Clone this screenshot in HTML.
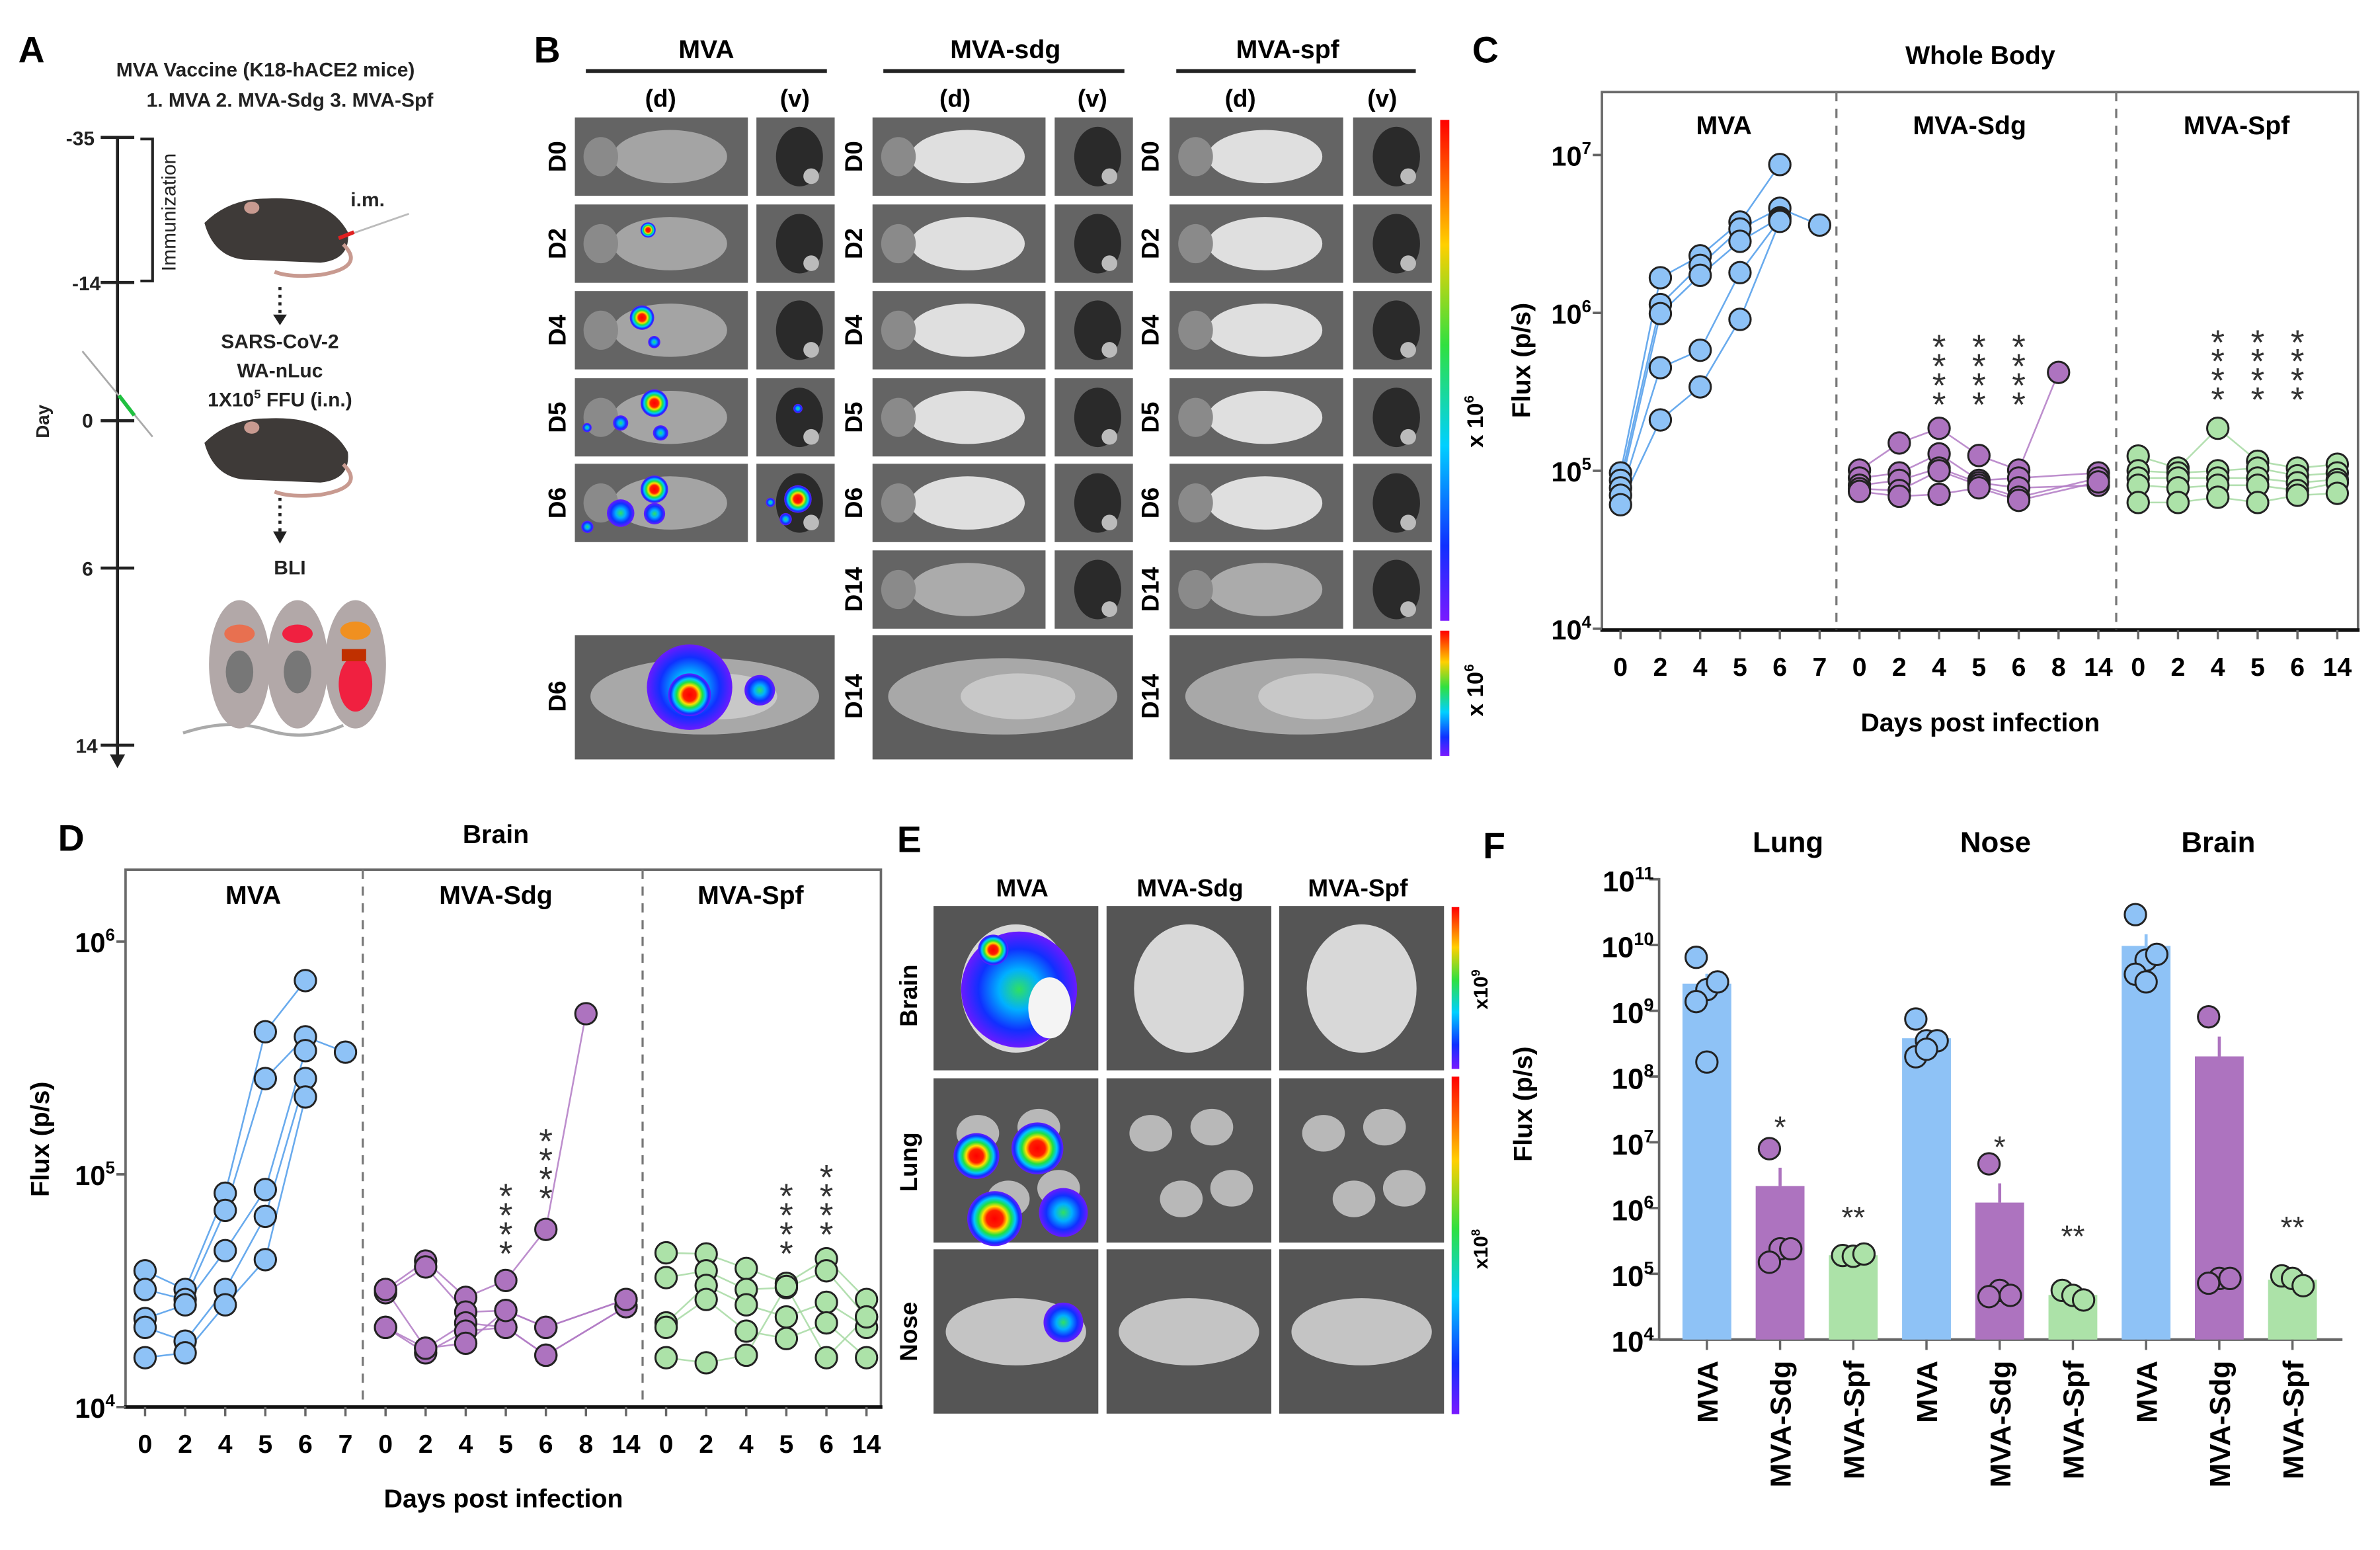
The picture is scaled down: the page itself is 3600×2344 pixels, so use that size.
<!DOCTYPE html>
<html><head><meta charset="utf-8"><style>
html,body{margin:0;padding:0;background:#fff;}
svg{display:block;font-family:"Liberation Sans",Arial,sans-serif;}
.b{font-weight:bold;}
.sb{font-weight:600;}
</style></head><body>
<svg id="fig" width="3600" height="2344" viewBox="0 0 1560 1015" preserveAspectRatio="none" xmlns="http://www.w3.org/2000/svg">
<defs>
<radialGradient id="heat"><stop offset="0" stop-color="#ff0000"/><stop offset="0.3" stop-color="#ff2000"/><stop offset="0.45" stop-color="#ffe000"/><stop offset="0.6" stop-color="#20e040"/><stop offset="0.75" stop-color="#00c8ff"/><stop offset="0.88" stop-color="#1030ff"/><stop offset="1" stop-color="#6a1aff"/></radialGradient>
<radialGradient id="heatB"><stop offset="0" stop-color="#30e060"/><stop offset="0.35" stop-color="#00b0ff"/><stop offset="0.7" stop-color="#1030ff"/><stop offset="1" stop-color="#6a1aff"/></radialGradient>
<linearGradient id="cbar" x1="0" y1="0" x2="0" y2="1"><stop offset="0" stop-color="#ff0000"/><stop offset="0.25" stop-color="#ffd000"/><stop offset="0.45" stop-color="#30e040"/><stop offset="0.65" stop-color="#00d0ff"/><stop offset="0.85" stop-color="#1030ff"/><stop offset="1" stop-color="#7a1aff"/></linearGradient>
</defs>

<!-- ===== Panel A ===== -->
<g>
<text x="12" y="41" font-size="24" class="b">A</text>
<text x="174" y="50" font-size="13" class="sb" text-anchor="middle" fill="#222">MVA Vaccine (K18-hACE2 mice)</text>
<text x="190" y="70" font-size="13" class="sb" text-anchor="middle" fill="#222">1.   MVA   2. MVA-Sdg   3. MVA-Spf</text>
<line x1="77" y1="90" x2="77" y2="496" stroke="#222" stroke-width="2"/>
<polygon points="72,494 82,494 77,503" fill="#222"/>
<g stroke="#222" stroke-width="2">
<line x1="66" y1="90" x2="88" y2="90"/><line x1="66" y1="185" x2="88" y2="185"/><line x1="66" y1="275.5" x2="88" y2="275.5"/><line x1="66" y1="372" x2="88" y2="372"/><line x1="66" y1="488" x2="88" y2="488"/></g>
<g font-size="13" class="sb" text-anchor="end" fill="#222">
<text x="62" y="95">-35</text><text x="66" y="190">-14</text><text x="61" y="280">0</text><text x="61" y="377">6</text><text x="64" y="493">14</text></g>
<path d="M92,91 H100 V184 H92" fill="none" stroke="#222" stroke-width="1.8"/>
<text transform="translate(115,139) rotate(-90)" font-size="13" text-anchor="middle" fill="#222">Immunization</text>
<text transform="translate(32,276) rotate(-90)" font-size="12" class="sb" text-anchor="middle" fill="#222">Day</text>
<line x1="54" y1="230" x2="100" y2="286" stroke="#aaa" stroke-width="1.2"/>
<line x1="78" y1="259" x2="88" y2="272" stroke="#20c040" stroke-width="2.5"/>
<g>
<path d="M134,146 Q150,130 175,130 Q215,128 228,152 Q230,170 210,172 L160,170 Q140,168 134,146Z" fill="#3e3a38"/>
<ellipse cx="165" cy="136" rx="5" ry="4" fill="#c89a90"/>
<path d="M225,160 Q240,175 210,180 Q190,182 180,178" fill="none" stroke="#c89a90" stroke-width="2.5"/>
<line x1="222" y1="156" x2="268" y2="140" stroke="#bbb" stroke-width="1.2"/><line x1="222" y1="156" x2="232" y2="152" stroke="#e02020" stroke-width="2.5"/>
</g>
<text x="241" y="135" font-size="13" class="sb" text-anchor="middle" fill="#222">i.m.</text>
<g><line x1="183.5" y1="188" x2="183.5" y2="208" stroke="#222" stroke-width="2" stroke-dasharray="2,3"/><polygon points="179,206 188,206 183.5,213" fill="#222"/></g>
<g font-size="13" class="sb" text-anchor="middle" fill="#222"><text x="183.5" y="228">SARS-CoV-2</text><text x="183.5" y="247">WA-nLuc</text><text x="183.5" y="266">1X10<tspan font-size="8" dy="-5">5</tspan><tspan dy="5"> FFU (i.n.)</tspan></text></g>
<g>
<path d="M134,290 Q150,274 175,274 Q215,272 228,296 Q230,314 210,316 L160,314 Q140,312 134,290Z" fill="#3e3a38"/>
<ellipse cx="165" cy="280" rx="5" ry="4" fill="#c89a90"/>
<path d="M225,304 Q240,319 210,324 Q190,326 180,322" fill="none" stroke="#c89a90" stroke-width="2.5"/>
</g>
<g><line x1="183.5" y1="326" x2="183.5" y2="350" stroke="#222" stroke-width="2" stroke-dasharray="2,3"/><polygon points="179,348 188,348 183.5,356" fill="#222"/></g>
<text x="190" y="376" font-size="13" class="sb" text-anchor="middle" fill="#222">BLI</text>
<g>
<path d="M120,480 Q150,470 175,478 Q200,486 225,475" fill="none" stroke="#aaa" stroke-width="2"/>
<ellipse cx="157" cy="435" rx="20" ry="42" fill="#b2a8a8"/><ellipse cx="195" cy="435" rx="20" ry="42" fill="#b2a8a8"/><ellipse cx="233" cy="435" rx="20" ry="42" fill="#b2a8a8"/>
<ellipse cx="157" cy="415" rx="10" ry="6" fill="#e87050"/><ellipse cx="195" cy="415" rx="10" ry="6" fill="#f02040"/><ellipse cx="233" cy="413" rx="10" ry="6" fill="#f09020"/>
<ellipse cx="157" cy="440" rx="9" ry="14" fill="#777"/><ellipse cx="195" cy="440" rx="9" ry="14" fill="#777"/><ellipse cx="233" cy="448" rx="11" ry="18" fill="#f02040"/>
<rect x="224" y="425" width="16" height="8" fill="#c03000"/>
</g>
</g>

<!-- ===== Panel B ===== -->
<g id="panelB">
<text x="350" y="41" font-size="24" class="b">B</text>
<g font-size="17" class="b" text-anchor="middle">
<text x="463" y="38">MVA</text><text x="659" y="38">MVA-sdg</text><text x="844" y="38">MVA-spf</text></g>
<g stroke="#222" stroke-width="2.5">
<line x1="384" y1="46.5" x2="542" y2="46.5"/><line x1="579" y1="46.5" x2="737" y2="46.5"/><line x1="771" y1="46.5" x2="928" y2="46.5"/></g>
<g font-size="16" class="b" text-anchor="middle">
<text x="433" y="70">(d)</text><text x="521" y="70">(v)</text><text x="626" y="70">(d)</text><text x="716" y="70">(v)</text><text x="813" y="70">(d)</text><text x="906" y="70">(v)</text></g>
<rect x="944" y="78.5" width="6" height="328" fill="url(#cbar)"/>
<rect x="944" y="413" width="6" height="82" fill="url(#cbar)"/>
<text transform="translate(972,276) rotate(-90)" font-size="15" class="b" text-anchor="middle">x 10<tspan font-size="9" dy="-6">6</tspan></text>
<text transform="translate(972,452) rotate(-90)" font-size="15" class="b" text-anchor="middle">x 10<tspan font-size="9" dy="-6">6</tspan></text>
</g>

<!-- ===== Panel C ===== -->
<g id="panelC">
<text x="965" y="41" font-size="24" class="b">C</text>
<text x="1298" y="42" font-size="17" class="b" text-anchor="middle">Whole Body</text>
<text x="1298" y="479" font-size="17" class="b" text-anchor="middle">Days post infection</text>
<text transform="translate(1003,236) rotate(-90)" font-size="17" class="b" text-anchor="middle">Flux (p/s)</text>
</g>

<!-- ===== Panel D ===== -->
<g id="panelD">
<text x="38" y="557" font-size="24" class="b">D</text>
<text x="325" y="552" font-size="17" class="b" text-anchor="middle">Brain</text>
<text x="330" y="987" font-size="17" class="b" text-anchor="middle">Days post infection</text>
<text transform="translate(32,746) rotate(-90)" font-size="17" class="b" text-anchor="middle">Flux (p/s)</text>
</g>

<!-- ===== Panel E ===== -->
<g id="panelE">
<text x="588" y="558" font-size="24" class="b">E</text>
<g font-size="16" class="b" text-anchor="middle">
<text x="670" y="587">MVA</text><text x="780" y="587">MVA-Sdg</text><text x="890" y="587">MVA-Spf</text></g>
<g font-size="16" class="b" text-anchor="middle">
<text transform="translate(601,652) rotate(-90)">Brain</text><text transform="translate(601,761) rotate(-90)">Lung</text><text transform="translate(601,872) rotate(-90)">Nose</text></g>
<rect x="951.5" y="594" width="5" height="106" fill="url(#cbar)"/>
<rect x="951.5" y="705" width="5" height="221" fill="url(#cbar)"/>
<text transform="translate(975,648) rotate(-90)" font-size="13" class="b" text-anchor="middle">x10<tspan font-size="8" dy="-5">9</tspan></text>
<text transform="translate(975,818) rotate(-90)" font-size="13" class="b" text-anchor="middle">x10<tspan font-size="8" dy="-5">8</tspan></text>
</g>

<!-- ===== Panel F ===== -->
<g id="panelF">
<text x="972" y="562" font-size="24" class="b">F</text>
<g font-size="19" class="b" text-anchor="middle">
<text x="1172" y="558">Lung</text><text x="1308" y="558">Nose</text><text x="1454" y="558">Brain</text></g>
<text transform="translate(1004,723) rotate(-90)" font-size="17" class="b" text-anchor="middle">Flux (p/s)</text>
</g>
</svg>

<script>
// ---------- Panel C data (Whole Body) ----------
const cCategories = ['0','2','4','5','6','7','0','2','4','5','6','8','14','0','2','4','5','6','14'];
const cMvaMice = [
 [9.7e4,1.67e6,2.3e6,3.76e6,8.7e6,null],
 [8.7e4,1.13e6,2.0e6,3.4e6,4.6e6,3.6e6],
 [7.8e4,9.9e5,1.73e6,2.84e6,4.0e6,null],
 [7.0e4,4.5e5,5.8e5,1.8e6,3.9e6,null],
 [6.1e4,2.1e5,3.4e5,9.1e5,3.8e6,null]];
const cSdgMice = [
 [1.01e5,1.5e5,1.86e5,1.25e5,1.01e5,4.2e5,null],
 [9.0e4,9.7e4,1.28e5,8.7e4,9.0e4,null,9.7e4],
 [8.1e4,8.7e4,1.04e5,8.4e4,7.8e4,null,8.1e4],
 [7.7e4,7.5e4,1.0e5,8.1e4,6.8e4,null,9.0e4],
 [7.4e4,6.9e4,7.1e4,7.8e4,6.5e4,null,8.5e4]];
const cSpfMice = [
 [1.24e5,1.04e5,1.86e5,1.15e5,1.04e5,1.1e5],
 [1.0e5,9.7e4,1.0e5,1.04e5,9.3e4,9.7e4],
 [9.0e4,9.0e4,9.0e4,9.0e4,8.4e4,8.8e4],
 [8.1e4,7.8e4,8.1e4,8.1e4,7.5e4,8.4e4],
 [6.3e4,6.3e4,6.8e4,6.3e4,7.0e4,7.2e4]];
const cStarCols = [8,9,10,15,16,17];
const cStarFlux = [6.8e5,6.8e5,6.8e5,7.3e5,7.3e5,7.3e5];
const cStarLabels = ['****','****','****','****','****','****'];
const cYTicks = [4,5,6,7];

// ---------- Panel D data (Brain) ----------
const dCategories = ['0','2','4','5','6','7','0','2','4','5','6','8','14','0','2','4','5','6','14'];
const dMvaMice = [
 [3.85e4,3.2e4,8.3e4,4.1e5,6.8e5,null],
 [3.2e4,2.9e4,7.0e4,2.58e5,3.9e5,3.35e5],
 [2.4e4,2.75e4,4.7e4,8.6e4,3.4e5,null],
 [2.2e4,1.92e4,3.2e4,6.6e4,2.58e5,null],
 [1.63e4,1.71e4,2.75e4,4.3e4,2.15e5,null]];
const dSdgMice = [
 [3.2e4,4.24e4,2.96e4,3.5e4,5.8e4,4.9e5,null],
 [3.1e4,4.0e4,2.56e4,2.6e4,2.2e4,null,2.9e4],
 [3.2e4,1.79e4,2.3e4,2.2e4,1.67e4,null,2.7e4],
 [2.2e4,1.71e4,2.12e4,2.2e4,1.67e4,null,2.7e4],
 [2.2e4,1.79e4,1.88e4,2.6e4,2.2e4,null,2.9e4]];
const dSpfMice = [
 [4.6e4,4.55e4,3.94e4,3.4e4,4.34e4,2.9e4],
 [3.6e4,3.85e4,3.2e4,3.26e4,3.85e4,2.44e4],
 [2.3e4,3.33e4,2.75e4,2.44e4,2.82e4,2.2e4],
 [2.2e4,2.9e4,2.12e4,1.97e4,2.3e4,1.63e4],
 [1.63e4,1.55e4,1.67e4,3.3e4,1.63e4,2.44e4]];
const dStarCols = [9,10,16,17];
const dStarFlux = [8.7e4,1.5e5,8.7e4,1.05e5];
const dStarLabels = ['****','****','****','****'];
const dYTicks = [4,5,6];

// ---------- Panel F data (organs bar chart) ----------
const fCategories = ['MVA','MVA-Sdg','MVA-Spf','MVA','MVA-Sdg','MVA-Spf','MVA','MVA-Sdg','MVA-Spf'];
const fLungMva = [6.5e9,2.1e9,2.75e9,1.38e9,1.66e8];
const fLungSdg = [8.0e6,2.4e5,2.4e5,1.5e5];
const fLungSpf = [1.9e5,1.85e5,2.0e5];
const fNoseMva = [7.5e8,3.5e8,3.5e8,2.0e8,2.6e8];
const fNoseSdg = [4.7e6,5.6e4,4.7e4,4.5e4];
const fNoseSpf = [5.6e4,4.7e4,4.0e4];
const fBrainMva = [2.9e10,5.9e9,7.2e9,3.6e9,2.75e9];
const fBrainSdg = [8.1e8,8.5e4,8.5e4,7.2e4];
const fBrainSpf = [9.3e4,8.5e4,6.6e4];
const fStars = ['','*','**','','*','**','','','**'];
const fStarFlux = [0,2.0e7,8.5e5,0,1.0e7,4.4e5,0,0,6.0e5];
const fYTicks = [4,5,6,7,8,9,10,11];

const NS='http://www.w3.org/2000/svg';
const COL={mva:{fill:'#8ec2f6',line:'#4d9bea'},sdg:{fill:'#ad73bf',line:'#b27ac4'},spf:{fill:'#ace2a8',line:'#a6d9a2'}};
function el(tag,attrs,parent){const e=document.createElementNS(NS,tag);for(const k in attrs)e.setAttribute(k,attrs[k]);parent.appendChild(e);return e;}
function lg(v){return Math.log10(v);}
function sup(parent,x,y,base,exp,size,anchor){
 const t=el('text',{x:x,y:y,'font-size':size,'font-weight':'bold','text-anchor':anchor||'end'},parent);
 
 
 t.appendChild(document.createTextNode(base));
 const s=el('tspan',{'font-size':size*0.62,dy:-size*0.42},t);s.textContent=exp;return t;}

function linePanel(g,cfg){
 const X=cfg.x, Y=cfg.y;
 const box=el('rect',{x:cfg.left,y:cfg.top,width:cfg.right-cfg.left,height:cfg.bottom-cfg.top,fill:'none',stroke:'#6a6a6a','stroke-width':1.6},g);
 
 
 const xa=el('line',{x1:cfg.left-1,y1:cfg.bottom,x2:cfg.right+1,y2:cfg.bottom,stroke:'#111','stroke-width':2.4},g);
 
 
 cfg.dividers.forEach(dx=>{
  const d=el('line',{x1:dx,y1:cfg.top,x2:dx,y2:cfg.bottom,stroke:'#777','stroke-width':1.4,'stroke-dasharray':'6,5'},g);
  
  });
 cfg.yTicks.forEach(e=>{const yy=Y(Math.pow(10,e));
  const t=el('line',{x1:cfg.left-6,y1:yy,x2:cfg.left,y2:yy,stroke:'#666','stroke-width':1.6},g);
  
  
  sup(g,cfg.left-7,yy+7,'10',String(e),18);});
 cfg.cats.forEach((c,i)=>{const xx=X(i);
  const t=el('line',{x1:xx,y1:cfg.bottom,x2:xx,y2:cfg.bottom+6,stroke:'#666','stroke-width':1.5},g);
  
  
  const l=el('text',{x:xx,y:cfg.bottom+30,'font-size':17,'font-weight':'bold','text-anchor':'middle'},g);
  
  
  l.textContent=c;});
 cfg.groupLabels.forEach(gl=>{const t=el('text',{x:gl[1],y:cfg.groupY,'font-size':17,'font-weight':'bold','text-anchor':'middle'},g);
  
  
  t.textContent=gl[0];});
 cfg.series.forEach(s=>{
  const c=COL[s.key];
  s.mice.forEach(m=>{let pts=[];m.forEach((v,j)=>{if(v!=null)pts.push(X(s.start+j)+','+Y(v));});
   const p=el('polyline',{points:pts.join(' '),fill:'none',stroke:c.line,'stroke-width':1.1,opacity:0.85},g);
   
   });
 });
 cfg.series.forEach(s=>{const c=COL[s.key];
  s.mice.forEach(m=>m.forEach((v,j)=>{if(v==null)return;
   const ci=el('circle',{cx:X(s.start+j),cy:Y(v),r:7,fill:c.fill,stroke:'#222','stroke-width':1.3},g);
   
   }));});
 cfg.stars.forEach((col,i)=>{const yy=Y(cfg.starFlux[i]);
  const chars=cfg.starLabels[i].split('');
  chars.forEach((ch,k)=>{const t=el('text',{x:X(col),y:yy+k*12.5+13,'font-size':23,'text-anchor':'middle',fill:'#333'},g);
   
   
   t.textContent=ch;});});
}

// Panel C
(function(){const g=document.getElementById('panelC');
 linePanel(g,{left:1050,right:1545.6,top:60.3,bottom:412.6,
  x:i=>1062.2+i*26.1, y:v=>411.7-(lg(v)-4)*103.4,
  dividers:[1203.7,1387.1], yTicks:cYTicks, cats:cCategories,
  groupLabels:[['MVA',1130],['MVA-Sdg',1291],['MVA-Spf',1466]], groupY:88,
  series:[{key:'mva',start:0,mice:cMvaMice},{key:'sdg',start:6,mice:cSdgMice},{key:'spf',start:13,mice:cSpfMice}],
  stars:cStarCols, starFlux:cStarFlux, starLabels:cStarLabels});})();

// Panel D
(function(){const g=document.getElementById('panelD');
 linePanel(g,{left:82.3,right:577.4,top:569.5,bottom:921.4,
  x:i=>95.1+i*26.27, y:v=>921.4-(lg(v)-4)*152.4,
  dividers:[237.8,421.2], yTicks:dYTicks, cats:dCategories,
  groupLabels:[['MVA',166],['MVA-Sdg',325],['MVA-Spf',492]], groupY:592,
  series:[{key:'mva',start:0,mice:dMvaMice},{key:'sdg',start:6,mice:dSdgMice},{key:'spf',start:13,mice:dSpfMice}],
  stars:dStarCols, starFlux:dStarFlux, starLabels:dStarLabels});})();

// Panel F
(function(){const g=document.getElementById('panelF');
 const X=i=>1118.8+i*47.98, Y=v=>877.2-(lg(v)-4)*43.06;
 const groups=[[fLungMva,'mva'],[fLungSdg,'sdg'],[fLungSpf,'spf'],[fNoseMva,'mva'],[fNoseSdg,'sdg'],[fNoseSpf,'spf'],[fBrainMva,'mva'],[fBrainSdg,'sdg'],[fBrainSpf,'spf']];
 const ya=el('line',{x1:1087.5,y1:575,x2:1087.5,y2:877.2,stroke:'#666','stroke-width':1.6},g);
 
 
 const xa=el('line',{x1:1087.5,y1:877.2,x2:1535.4,y2:877.2,stroke:'#666','stroke-width':1.8},g);
 
 
 fYTicks.forEach(e=>{const yy=Y(Math.pow(10,e));
  const t=el('line',{x1:1081,y1:yy,x2:1087.5,y2:yy,stroke:'#666','stroke-width':1.6},g);
  
  
  sup(g,1084,yy+8,'10',String(e),19);});
 groups.forEach((gr,i)=>{const vals=gr[0],c=COL[gr[1]];
  const n=vals.length, mean=vals.reduce((a,b)=>a+b,0)/n;
  const sd=Math.sqrt(vals.reduce((a,b)=>a+(b-mean)*(b-mean),0)/(n-1)), sem=sd/Math.sqrt(n);
  const cx=X(i);
  const eb=el('line',{x1:cx,y1:Y(mean),x2:cx,y2:Y(mean+sem),stroke:c.fill,'stroke-width':2},g);
  
  
  const bar=el('rect',{x:cx-16,y:Y(mean),width:32,height:877.2-Y(mean),fill:c.fill},g);
  
  
  const tk=el('line',{x1:cx,y1:877.2,x2:cx,y2:884,stroke:'#666','stroke-width':1.5},g);
  
  
  vals.forEach((v,k)=>{const off=(k%3-1)*7;
   const p=el('circle',{cx:cx+off,cy:Y(v),r:7,fill:c.fill,stroke:'#222','stroke-width':1.3},g);
   
   });
  const lab=el('text',{transform:'translate('+(cx+7)+',891) rotate(-90)','font-size':19,'font-weight':'bold','text-anchor':'end'},g);
  
  
  lab.textContent=fCategories[i];
  if(fStars[i]){const s=el('text',{x:cx,y:Y(fStarFlux[i])+10,'font-size':20,'text-anchor':'middle',fill:'#333'},g);
   
   
   s.textContent=fStars[i];}
 });})();

// Panel B image tiles (illustrative)
(function(){const g=document.getElementById('panelB');
 const rows=[[76.9,128.2,'D0'],[133.9,185.2,'D2'],[190.6,241.9,'D4'],[247.7,298.9,'D5'],[303.7,355,'D6'],[360.4,411.7,'D14']];
 const cols=[[376.8,490.2,'mva','d'],[495.8,547.1,'mva','v'],[571.9,685.3,'sdg','d'],[691.3,742.6,'sdg','v'],[766.6,880.4,'spf','d'],[886.9,938.5,'spf','v']];
 rows.forEach((r,ri)=>{cols.forEach(c=>{
  if(c[2]==='mva'&&r[2]==='D14')return;
  const x=c[0],y=r[0],w=c[1]-c[0],h=r[1]-r[0];
  const t=el('rect',{x:x,y:y,width:w,height:h,fill:'#646464'},g);
  
  
  if(c[3]==='d'){const bright=c[2]==='mva'?'#a8a8a8':'#e6e6e6';
   el('ellipse',{cx:x+w*0.55,cy:y+h*0.5,rx:w*0.33,ry:h*0.34,fill:bright,opacity:r[2]==='D14'?0.55:0.95},g);
   el('ellipse',{cx:x+w*0.15,cy:y+h*0.5,rx:w*0.1,ry:h*0.25,fill:'#8a8a8a'},g);}
  else{el('ellipse',{cx:x+w*0.55,cy:y+h*0.5,rx:w*0.3,ry:h*0.38,fill:'#2a2a2a'},g);
   el('ellipse',{cx:x+w*0.7,cy:y+h*0.75,rx:w*0.1,ry:h*0.1,fill:'#bbb'},g);}
 });
  const lx=[364.7,559,753.4];
  lx.forEach((xx,k)=>{if(k===0&&r[2]==='D14')return;
   const t=el('text',{transform:'translate('+(xx+6)+','+((r[0]+r[1])/2)+') rotate(-90)','font-size':16,'font-weight':'bold','text-anchor':'middle'},g);
   
   
   t.textContent=r[2];});
 });
 [[376.8,547.1,'D6'],[571.9,742.6,'D14'],[766.6,938.5,'D14']].forEach((b,k)=>{
  const t=el('rect',{x:b[0],y:415.9,width:b[1]-b[0],height:81.4,fill:'#5e5e5e'},g);
  
  
  el('ellipse',{cx:(b[0]+b[1])/2,cy:456,rx:(b[1]-b[0])*0.44,ry:25,fill:'#a8a8a8'},g);
  el('ellipse',{cx:(b[0]+b[1])/2+10,cy:456,rx:(b[1]-b[0])*0.22,ry:15,fill:'#c8c8c8'},g);
  const lab=el('text',{transform:'translate('+([370.7,565,759.4][k])+',456) rotate(-90)','font-size':16,'font-weight':'bold','text-anchor':'middle'},g);
  
  
  lab.textContent=b[2];});
 const blobs=[[424.8,150.6,5,'heat'],[420.8,208,8,'heat'],[428.8,224,4,'heatB'],[428.9,264,9,'heat'],[406.8,277,5,'heatB'],[433,283.5,5,'heatB'],[384.8,280,3,'heatB'],
  [428.9,320.4,9,'heat'],[406.8,336,9,'heatB'],[429,336.4,7,'heatB'],[385,345,4,'heatB'],[523,326.8,9,'heat'],[505,329,3,'heatB'],[515,340,4,'heatB'],[523,267.5,3,'heatB'],
  [452,450,28,'heatB'],[452,455,14,'heat'],[498,452,10,'heatB']];
 blobs.forEach(b=>{const c=el('circle',{cx:b[0],cy:b[1],r:b[2],fill:'url(#'+b[3]+')'},g);
  
  });
})();

// Panel E organ tiles
(function(){const g=document.getElementById('panelE');
 const cols=[611.9,725.3,838.5], rows=[593.3,706.1,818.1];
 rows.forEach((ry,ri)=>cols.forEach((cx,ci)=>{
  const t=el('rect',{x:cx,y:ry,width:108,height:107.6,fill:'#555'},g);
  
  
  const mx=cx+54,my=ry+54;
  if(ri===0)el('ellipse',{cx:mx,cy:my,rx:36,ry:42,fill:'#d8d8d8'},g);
  else if(ri===1){[[-25,-18],[15,-22],[-5,25],[28,18]].forEach(o=>el('ellipse',{cx:mx+o[0],cy:my+o[1],rx:14,ry:12,fill:'#b8b8b8'},g));}
  else el('ellipse',{cx:mx,cy:my,rx:46,ry:22,fill:'#c4c4c4'},g);
 }));
 const blobs=[[668,648,38,'heatB'],[651,622,10,'heat'],[640,757,15,'heat'],[680,752,17,'heat'],[652,798,18,'heat'],[697,794,16,'heatB'],[697,866,13,'heatB']];
 blobs.forEach(b=>{const c=el('circle',{cx:b[0],cy:b[1],r:b[2],fill:'url(#'+b[3]+')'},g);
  
  });
 el('ellipse',{cx:688,cy:660,rx:14,ry:20,fill:'#f4f4f4'},g);
})();
</script>
</body></html>
